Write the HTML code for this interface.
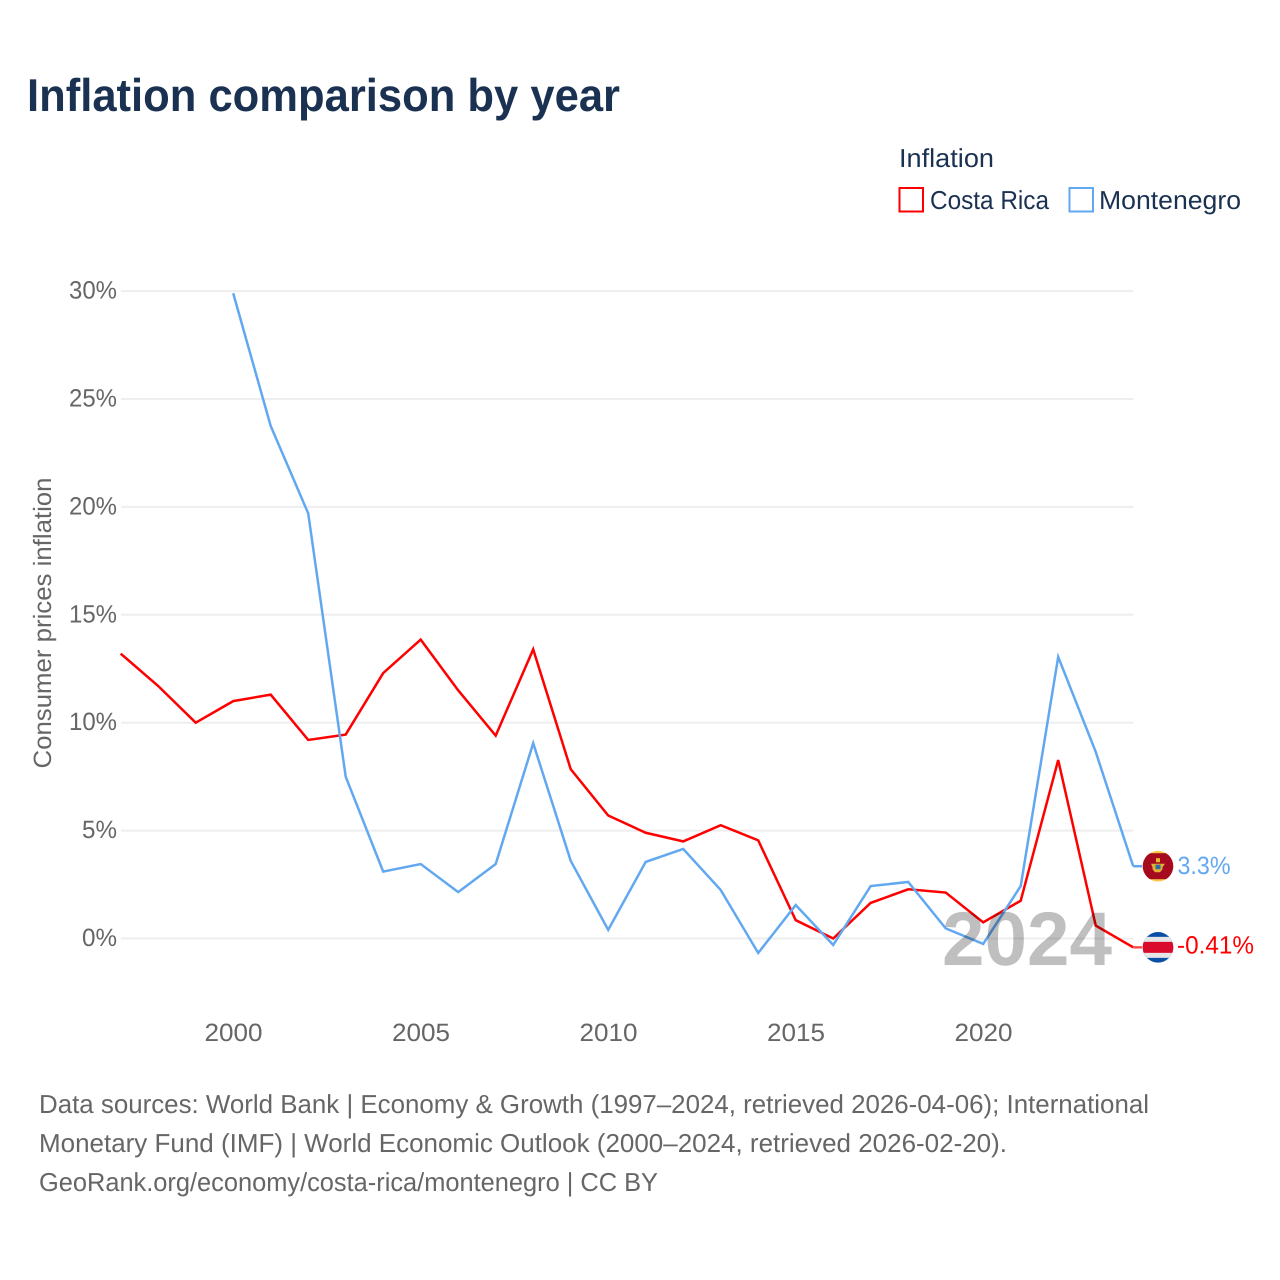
<!DOCTYPE html>
<html lang="en">
<head>
<meta charset="utf-8">
<title>Inflation comparison by year</title>
<style>
html,body{margin:0;padding:0;background:#fff;}
svg{display:block;font-family:"Liberation Sans",sans-serif;text-rendering:geometricPrecision;}
</style>
</head>
<body>
<svg id="chart" width="1280" height="1280" viewBox="0 0 1280 1280" xmlns="http://www.w3.org/2000/svg">
  <rect x="0" y="0" width="1280" height="1280" fill="#ffffff"/>
  <text x="27" y="111" font-size="46" font-weight="700" fill="#1a3152" textLength="593" lengthAdjust="spacingAndGlyphs">Inflation comparison by year</text>

  <g>
    <text x="899" y="167" font-size="26" fill="#1a3152" textLength="95" lengthAdjust="spacingAndGlyphs">Inflation</text>
    <g>
      <rect x="899.5" y="188" width="23.5" height="23.5" fill="none" stroke="#ff0000" stroke-width="2"/>
      <text x="930" y="209" font-size="26" fill="#1a3152" textLength="119" lengthAdjust="spacingAndGlyphs">Costa Rica</text>
    </g>
    <g>
      <rect x="1069.5" y="188" width="23.5" height="23.5" fill="none" stroke="#62a8f0" stroke-width="2"/>
      <text x="1099" y="209" font-size="26" fill="#1a3152" textLength="142" lengthAdjust="spacingAndGlyphs">Montenegro</text>
    </g>
  </g>

  <g id="grid"></g>
  <g id="yticks"></g>
  <g id="xticks"></g>
  <text transform="translate(51,623) rotate(-90)" text-anchor="middle" font-size="25" fill="#666666" textLength="291" lengthAdjust="spacingAndGlyphs">Consumer prices inflation</text>

  <g id="series"></g>
  <g id="ends"></g>

  <text x="942" y="965" font-size="76" font-weight="700" fill="#000000" fill-opacity="0.25" textLength="170" lengthAdjust="spacingAndGlyphs">2024</text>

  <g font-size="26" fill="#666666">
    <text x="39" y="1113" textLength="1110" lengthAdjust="spacingAndGlyphs">Data sources: World Bank | Economy &amp; Growth (1997–2024, retrieved 2026-04-06); International</text>
    <text x="39" y="1152" textLength="968" lengthAdjust="spacingAndGlyphs">Monetary Fund (IMF) | World Economic Outlook (2000–2024, retrieved 2026-02-20).</text>
    <text x="39" y="1191" textLength="619" lengthAdjust="spacingAndGlyphs">GeoRank.org/economy/costa-rica/montenegro | CC BY</text>
  </g>
</svg>
<script>
var costaRicaYears = [1997,1998,1999,2000,2001,2002,2003,2004,2005,2006,2007,2008,2009,2010,2011,2012,2013,2014,2015,2016,2017,2018,2019,2020,2021,2022,2023,2024];
var costaRicaValues = [13.2,11.7,10.0,11.0,11.3,9.2,9.45,12.3,13.85,11.5,9.4,13.4,7.85,5.7,4.9,4.5,5.25,4.55,0.85,0.0,1.65,2.28,2.13,0.75,1.75,8.27,0.6,-0.41];
var montenegroYears = [2000,2001,2002,2003,2004,2005,2006,2007,2008,2009,2010,2011,2012,2013,2014,2015,2016,2017,2018,2019,2020,2021,2022,2023,2024];
var montenegroValues = [29.9,23.75,19.7,7.5,3.1,3.45,2.15,3.45,9.05,3.6,0.4,3.55,4.15,2.25,-0.67,1.55,-0.3,2.43,2.62,0.47,-0.25,2.43,13.05,8.65,3.35];
var yTickValues = [0,5,10,15,20,25,30];
var xTickYears = [2000,2005,2010,2015,2020];
var costaRicaEndLabel = '-0.41%';
var montenegroEndLabel = '3.3%';
var NS = 'http://www.w3.org/2000/svg';

function xScale(year){ return 120.7 + (year - 1997) * 37.5; }
function yScale(v){ return 938.5 - v * 21.58; }
function make(tag, attrs, parent){
  var n = document.createElementNS(NS, tag);
  for (var k in attrs) n.setAttribute(k, attrs[k]);
  parent.appendChild(n);
  return n;
}

var grid = document.getElementById('grid');
var yticks = document.getElementById('yticks');
yTickValues.forEach(function(v){
  var l = make('line', {x1:121, x2:1133.5, y1:yScale(v), y2:yScale(v), stroke:'#eeeeee', 'stroke-width':2}, grid);
  
  
  var t = make('text', {x:117, y:yScale(v)+7.5, 'text-anchor':'end', 'font-size':25, fill:'#666666', textLength:(v<10?35:48), lengthAdjust:'spacingAndGlyphs'}, yticks);
  
  
  t.textContent = v + '%';
});

var xticks = document.getElementById('xticks');
xTickYears.forEach(function(yr){
  var t = make('text', {x:xScale(yr)+0.3, y:1041, 'text-anchor':'middle', 'font-size':25, fill:'#666666', textLength:58, lengthAdjust:'spacingAndGlyphs'}, xticks);
  
  
  t.textContent = yr;
});

function linePoints(years, values){
  return years.map(function(yr, i){ return xScale(yr).toFixed(2) + ',' + yScale(values[i]).toFixed(2); }).join(' ');
}
var series = document.getElementById('series');
var redLine = make('polyline', {points:linePoints(costaRicaYears, costaRicaValues), fill:'none', stroke:'#ff0000', 'stroke-width':2.5, 'stroke-linejoin':'miter'}, series);


var blueLine = make('polyline', {points:linePoints(montenegroYears, montenegroValues), fill:'none', stroke:'#62a8f0', 'stroke-width':2.5, 'stroke-linejoin':'miter'}, series);



var ends = document.getElementById('ends');
var lastRedY = yScale(costaRicaValues[costaRicaValues.length-1]);
var lastBlueY = yScale(montenegroValues[montenegroValues.length-1]);
var lastX = xScale(2024);

var redStub = make('line', {x1:lastX, x2:1142, y1:lastRedY, y2:lastRedY, stroke:'#ff5050', 'stroke-width':2.5}, ends);


var blueStub = make('line', {x1:lastX, x2:1142, y1:lastBlueY, y2:lastBlueY, stroke:'#62a8f0', 'stroke-width':2.5}, ends);



var defs = make('defs', {}, ends);
var cpA = make('clipPath', {id:'clip-cr'}, defs);
make('circle', {cx:1158, cy:lastRedY, r:15.3}, cpA);
var cpB = make('clipPath', {id:'clip-me'}, defs);
make('circle', {cx:1158, cy:lastBlueY, r:15.3}, cpB);

var crFlag = make('g', {'clip-path':'url(#clip-cr)'}, ends);


make('rect', {x:1142, y:lastRedY-16, width:32, height:32, fill:'#0a4fa6'}, crFlag);
make('rect', {x:1142, y:lastRedY-10.5, width:32, height:21, fill:'#e6e6e6'}, crFlag);
make('rect', {x:1142, y:lastRedY-5.5, width:32, height:11, fill:'#da0a2c'}, crFlag);

var meFlag = make('g', {'clip-path':'url(#clip-me)'}, ends);


make('rect', {x:1142, y:lastBlueY-16, width:32, height:32, fill:'#fdc84a'}, meFlag);
make('rect', {x:1142, y:lastBlueY-13, width:32, height:26, fill:'#a50a1e'}, meFlag);
make('rect', {x:1156, y:lastBlueY-8, width:4, height:4, fill:'#e8b830'}, meFlag);
make('path', {d:'M1151 ' + (lastBlueY-2.5) + 'h14l-2.5 3.5v2l-2.5 3h-5l-2.5-3v-2z', fill:'#e2b035'}, meFlag);
make('rect', {x:1155.5, y:lastBlueY-1.5, width:5, height:4.5, fill:'#2f6fa8'}, meFlag);

var redLabel = make('text', {x:1177, y:lastRedY+6, 'font-size':25, fill:'#ff0000', textLength:77, lengthAdjust:'spacingAndGlyphs'}, ends);


redLabel.textContent = costaRicaEndLabel;
var blueLabel = make('text', {x:1177.5, y:lastBlueY+8, 'font-size':25, fill:'#62a8f0', textLength:53, lengthAdjust:'spacingAndGlyphs'}, ends);


blueLabel.textContent = montenegroEndLabel;
</script>
</body>
</html>
